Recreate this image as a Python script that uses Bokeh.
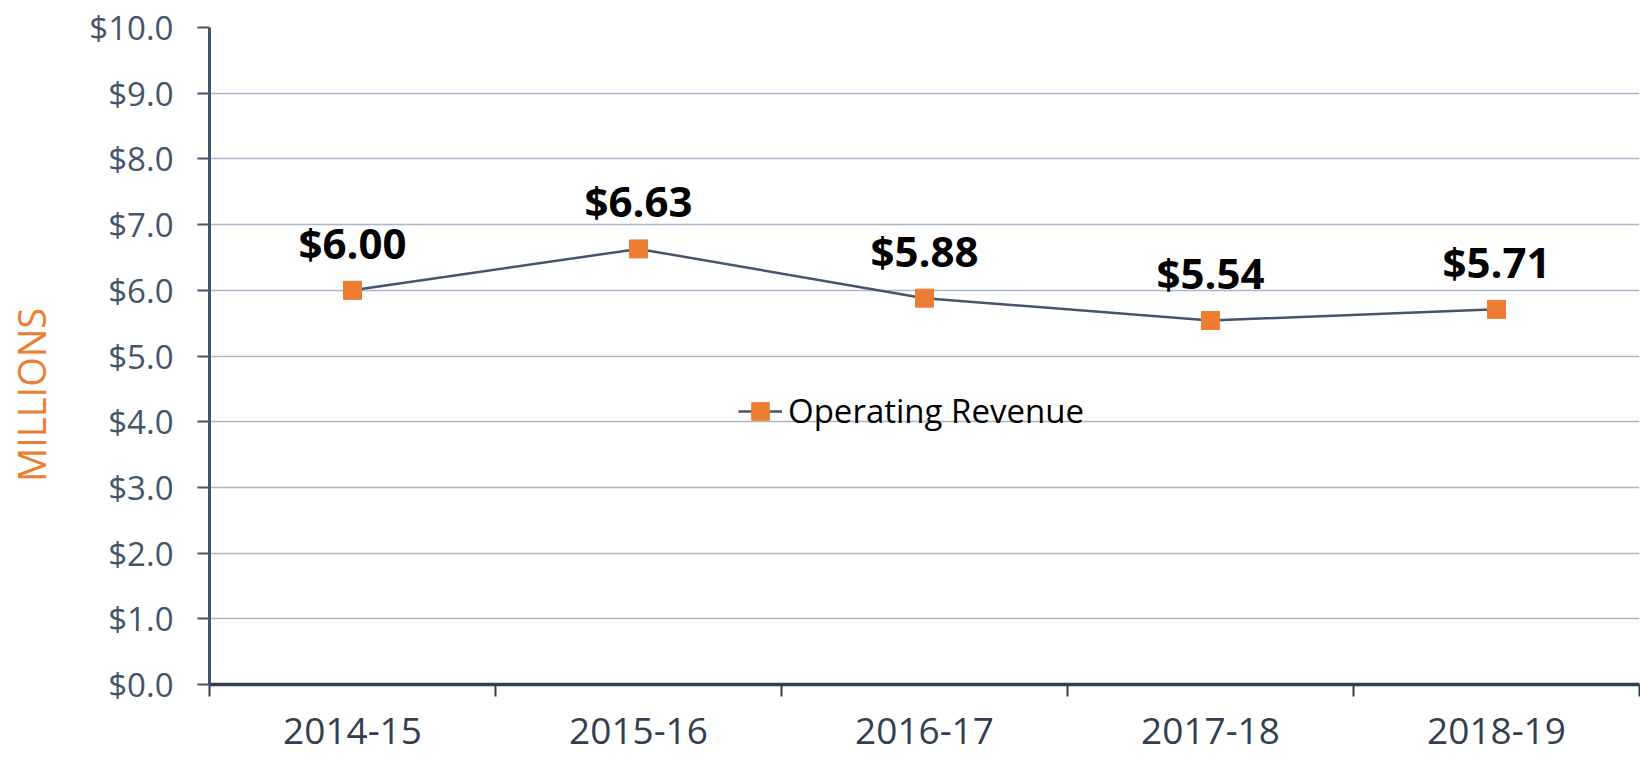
import math
from bokeh.plotting import figure
from bokeh.layouts import row
from bokeh.models import (Range1d, FixedTicker, NumeralTickFormatter,
                          Legend, LegendItem, ColumnDataSource)
from bokeh.core.properties import value
from bokeh.embed import file_html
from bokeh.resources import INLINE

years = ["2014-15", "2015-16", "2016-17", "2017-18", "2018-19"]
revenue = [6.00, 6.63, 5.88, 5.54, 5.71]
y_ticks = [0, 1, 2, 3, 4, 5, 6, 7, 8, 9, 10]
series_name = "Operating Revenue"
axis_title = "MILLIONS"

FONT = "Open Sans"
ORANGE = "#ED7D31"
SLATE = "#44546A"
DARK = "#333F50"
GRID = "#A9B7CC"

LEFT_W = 60

# --- narrow side panel holding the rotated axis title ---
side = figure(width=LEFT_W, height=760, output_backend="svg", toolbar_location=None,
              x_range=Range1d(0, LEFT_W), y_range=Range1d(0, 760),
              x_axis_location=None, y_axis_location=None)
side.min_border = 0
side.outline_line_color = None
side.xgrid.visible = False
side.ygrid.visible = False
side.text(x=[30], y=[335], text=[axis_title], angle=math.pi / 2,
          text_font=value(FONT), text_font_size="38px", text_color=ORANGE,
          text_align="center", text_baseline="middle")

# --- main chart ---
xs = [i + 0.5 for i in range(len(years))]
src = ColumnDataSource(dict(x=xs, y=revenue, lab=[f"${v:.2f}" for v in revenue]))

p = figure(width=1640 - LEFT_W, height=760, output_backend="svg", toolbar_location=None,
           x_range=Range1d(0, len(years)), y_range=Range1d(0, 10))
p.min_border_left = 209 - LEFT_W
p.min_border_right = 1
p.min_border_top = 27
p.min_border_bottom = 76
p.outline_line_color = None

ya = p.yaxis[0]
ya.ticker = FixedTicker(ticks=y_ticks)
ya.formatter = NumeralTickFormatter(format="$0.0")
ya.axis_line_color = SLATE
ya.axis_line_width = 3
ya.major_tick_line_color = SLATE
ya.major_tick_line_width = 2
ya.major_tick_out = 12
ya.major_tick_in = 0
ya.minor_tick_line_color = None
ya.major_label_text_font = FONT
ya.major_label_text_font_size = "33px"
ya.major_label_text_color = SLATE
ya.major_label_standoff = 24

xa = p.xaxis[0]
xa.ticker = FixedTicker(ticks=xs, minor_ticks=list(range(len(years) + 1)))
xa.major_label_overrides = {x: y for x, y in zip(xs, years)}
xa.axis_line_color = DARK
xa.axis_line_width = 3.5
xa.major_tick_line_color = None
xa.minor_tick_line_color = DARK
xa.minor_tick_line_width = 2
xa.minor_tick_out = 12
xa.minor_tick_in = 0
xa.major_label_text_font = FONT
xa.major_label_text_font_size = "37px"
xa.major_label_text_color = DARK
xa.major_label_standoff = 21

p.xgrid.grid_line_color = None
p.ygrid.ticker = FixedTicker(ticks=y_ticks)
p.ygrid.grid_line_color = GRID
p.ygrid.grid_line_width = 1.5

ln = p.line("x", "y", source=src, line_color=SLATE, line_width=2.5)
sc = p.scatter("x", "y", source=src, marker="square", size=18,
               fill_color=ORANGE, line_color=ORANGE)

p.text("x", "y", text="lab", source=src, text_font=value(FONT),
       text_font_style="bold", text_font_size="42px", text_color="black",
       text_align="center", text_baseline="alphabetic", y_offset=-48)

legend = Legend(items=[LegendItem(label=series_name, renderers=[ln, sc])],
                location=(529, 251), orientation="horizontal",
                background_fill_alpha=0, border_line_color=None,
                padding=0, margin=0, glyph_width=44, glyph_height=44,
                label_standoff=6, label_text_font=FONT,
                label_text_font_size="33px", label_text_color="black")
p.add_layout(legend, "center")

layout = row(side, p)
open("out.html", "w").write(file_html(layout, INLINE))
